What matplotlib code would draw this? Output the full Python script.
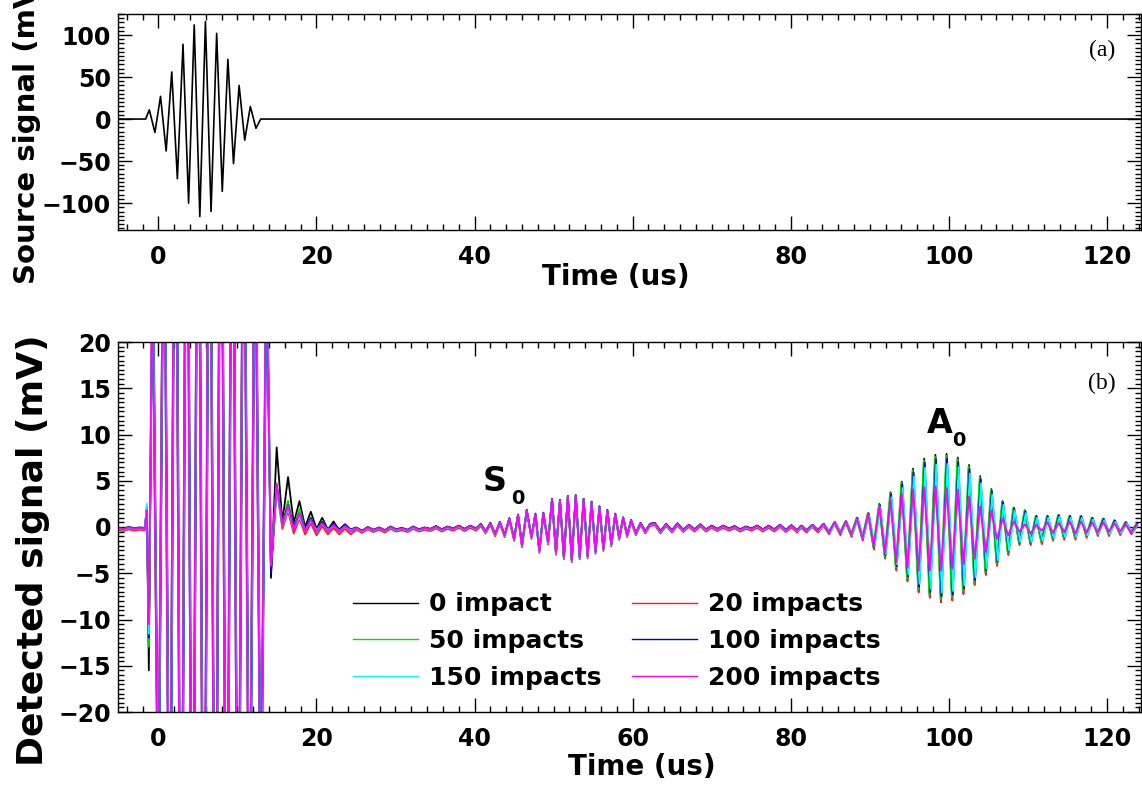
import numpy as np
import matplotlib
matplotlib.use("Agg")
import matplotlib.pyplot as plt
from matplotlib.ticker import MultipleLocator, FuncFormatter

# ---- source signal (panel a): half-cycle extrema ----
src_start = -1.14
src_step = 0.71
src_extrema = [11, -16, 27, -38, 56, -71, 89, -100, 112, -116,
               116, -110, 102, -86, 71, -53, 40, -25, 15, -11]

# ---- detected signal (panel b) ----
labels = ["0 impact", "20 impacts", "50 impacts", "100 impacts", "150 impacts", "200 impacts"]
colors = ["black", "#ff1a1a", "#00e000", "#0000c8", "#00ffff", "#ff00ff"]
offsets = [0.0, -0.2, 0.05, 0.05, -0.05, 0.0]

pre_start, pre_step = -5.1, 0.68
pre_vals = [-0.1, -0.25, -0.05, -0.2, -0.1, -0.15]

spike_t = [-1.45, -1.2]
spike_vals = [[2.2, -15.5], [1.5, -12.5], [1.8, -13.0],
              [2.0, -12.0], [2.6, -11.5], [1.8, -10.5]]

# electrical crosstalk, clipped by the axis
burst_start, burst_step = -0.75, 0.72
burst_vals = [30, -35, 45, -50, 60, -60, 60, -60, 60, -60, 60,
              -60, 60, -60, 60, -55, 50, -45, 40, -35, 30]
burst_shift = [0.0, 0.03, 0.05, 0.08, 0.04, 0.0]

ring_start, ring_step = 14.25, 0.72
ring_vals = [
    [-5.5, 8.6, 0.5, 5.4, 0.4, 2.8, 0.0, 1.65, -0.2, 1.0, -0.3, 0.6, -0.4, 0.3, -0.4],
    [-4.5, 4.4, 0.0, 1.9, -0.5, 1.1, -0.6, 0.6, -0.7, 0.3, -0.6, 0.1, -0.6, 0.0, -0.6],
    [-4.5, 4.7, 0.3, 2.8, -0.1, 1.9, -0.3, 1.0, -0.4, 0.6, -0.4, 0.3, -0.4, 0.2, -0.4],
    [-5.0, 4.4, 0.3, 2.3, -0.1, 1.4, -0.2, 0.9, -0.3, 0.5, -0.3, 0.3, -0.3, 0.2, -0.3],
    [-4.0, 4.3, 0.2, 2.0, -0.2, 1.2, -0.3, 0.7, -0.3, 0.4, -0.3, 0.2, -0.4, 0.1, -0.3],
    [-4.2, 4.6, 0.2, 2.3, -0.3, 1.5, -0.4, 0.8, -0.5, 0.4, -0.5, 0.2, -0.5, 0.1, -0.5],
]

noise1_start, noise1_step = 25.05, 0.72
noise1_vals = [-0.1, -0.45, -0.05, -0.35, -0.1, -0.4, 0.0, -0.3, -0.15, -0.35, 0.0,
               -0.3, -0.1, -0.25, 0.05, -0.3, 0.0, -0.2, 0.1, -0.25, 0.1]

s0_t = [40.2, 40.8, 41.4, 42.0, 42.6, 43.2, 43.8, 44.4, 45.0, 45.5,
        46.0, 46.6, 47.2, 47.7, 48.2, 48.7, 49.3, 49.8, 50.3, 50.8,
        51.3, 51.8, 52.3, 52.8, 53.3, 53.8, 54.3, 54.8, 55.3, 55.8,
        56.3, 56.8, 57.3, 57.8, 58.3, 58.8, 59.3, 59.8, 60.4, 61.0,
        61.6, 62.2]
s0_vals = [-0.2, 0.3, -0.5, 0.4, -0.8, 0.5, -0.9, 0.9, -1.3, 1.3,
           -2.0, 1.8, -1.1, 1.4, -2.6, 1.5, -1.7, 3.0, -2.8, 2.9,
           -3.3, 3.3, -3.6, 3.4, -3.3, 3.0, -3.2, 2.7, -2.7, 2.2,
           -2.4, 1.8, -1.9, 1.4, -1.2, 1.0, -0.9, 0.7, -0.7, 0.4,
           -0.5, 0.3]

noise2_start, noise2_step = 62.8, 0.72
noise2_vals = [0.4, -0.5, 0.3, -0.4, 0.35, -0.35, 0.2, -0.3, 0.25, -0.3, 0.1, -0.25, 0.1,
               -0.2, 0.05, -0.3, 0.0, -0.2, 0.1, -0.3, 0.1, -0.3, 0.2, -0.35, 0.15, -0.4]

a0_start, a0_step = 81.3, 0.708
a0_vals = [0.1, -0.4, 0.2, -0.4, 0.3, -0.6, 0.5, -0.7, 0.6, -0.9,
           1.0, -1.3, 1.5, -2.3, 2.5, -3.3, 3.75, -4.6, 4.9, -5.8,
           6.3, -7.0, 7.4, -7.6, 7.8, -8.1, 7.9, -7.9, 7.5, -7.2,
           6.7, -6.2, 5.5, -5.1, 4.1, -4.1, 2.8, -2.9, 2.1, -1.8,
           1.8, -1.8, 1.2, -1.7, 1.2, -1.3, 1.3, -1.2, 1.2, -1.2,
           1.2, -1.0, 1.0, -0.8, 0.9, -0.8, 0.7, -0.7, 0.5, -0.6, 0.3]
a0_vals_200 = [0.1, -0.4, 0.2, -0.4, 0.3, -0.6, 0.5, -0.7, 0.6, -0.8,
               0.9, -1.2, 1.4, -2.0, 2.3, -2.8, 2.9, -3.8, 3.6, -4.4,
               4.1, -4.7, 4.3, -4.7, 4.4, -4.7, 4.2, -4.5, 4.0, -4.0,
               3.3, -3.4, 2.2, -2.7, 1.8, -1.3, 0.9, -0.9, 0.6, -0.5,
               0.3, -0.7, 0.2, -0.4, 0.5, -0.6, 0.4, -0.5, 0.6, -0.7,
               0.6, -0.6, 0.5, -0.6, 0.5, -0.5, 0.4, -0.5, 0.3, -0.6, 0.2]
a0_gain = [1.0, 0.98, 0.97, 0.93, 0.87, 1.0]
a0_shift = [0.0, 0.02, -0.06, 0.06, 0.11, 0.0]


def grid(start, step, vals):
    return start + step * np.arange(len(vals))


def detected(i):
    t = np.concatenate([
        grid(pre_start, pre_step, pre_vals),
        spike_t,
        grid(burst_start, burst_step, burst_vals) + burst_shift[i],
        grid(ring_start, ring_step, ring_vals[i]),
        grid(noise1_start, noise1_step, noise1_vals),
        s0_t,
        grid(noise2_start, noise2_step, noise2_vals),
        grid(a0_start, a0_step, a0_vals) + a0_shift[i],
    ])
    a0 = np.array(a0_vals_200) if i == 5 else np.array(a0_vals) * a0_gain[i]
    v = np.concatenate([
        pre_vals, spike_vals[i], burst_vals, ring_vals[i],
        noise1_vals, s0_vals, noise2_vals, a0,
    ]) + offsets[i]
    return t, v


sans = {"family": "DejaVu Sans", "weight": "bold"}

fig = plt.figure(figsize=(11.42, 7.86), dpi=100)
W, H = 1142, 786
ax1 = fig.add_axes([118 / W, 1 - 230 / H, 1023 / W, 216 / H])
ax2 = fig.add_axes([118 / W, 1 - 712 / H, 1023 / W, 370 / H])

# panel (a)
st = grid(src_start, src_step, src_extrema)
t_src = np.concatenate([[-5.1, -1.6], st, [12.95, 124.3]])
v_src = np.concatenate([[0, 0], src_extrema, [0, 0]])
ax1.plot(t_src, v_src, color="black", lw=1.2)
ax1.set_xlim(-5.1, 124.3)
ax1.set_ylim(-132, 125)
ax1.xaxis.set_major_locator(MultipleLocator(20))
ax1.xaxis.set_minor_locator(MultipleLocator(2))
ax1.yaxis.set_major_locator(MultipleLocator(50))
ax1.yaxis.set_minor_locator(MultipleLocator(5))
# the axis title sits over the 60 label in the original
ax1.xaxis.set_major_formatter(FuncFormatter(lambda x, p: "" if abs(x - 60) < 1 else f"{x:.0f}"))

# panel (b)
lines = []
for i in range(6):
    t, v = detected(i)
    ln, = ax2.plot(t, v, color=colors[i], lw=1.3, label=labels[i])
    lines.append(ln)
ax2.set_xlim(-5.1, 124.3)
ax2.set_ylim(-20, 20)
ax2.xaxis.set_major_locator(MultipleLocator(20))
ax2.xaxis.set_minor_locator(MultipleLocator(2))
ax2.yaxis.set_major_locator(MultipleLocator(5))
ax2.yaxis.set_minor_locator(MultipleLocator(0.5))

ax2.text(42.6, 4.97, "S", fontsize=24, ha="center", va="center", **sans)
ax2.text(45.5, 3.1, "0", fontsize=14, ha="center", va="center", **sans)
ax2.text(98.8, 11.2, "A", fontsize=24, ha="center", va="center", **sans)
ax2.text(101.3, 9.4, "0", fontsize=14, ha="center", va="center", **sans)

fig.text(1102 / W, 1 - 50 / H, "(a)", fontsize=17, family="Liberation Serif",
         ha="center", va="center")
fig.text(1102 / W, 1 - 383 / H, "(b)", fontsize=17, family="Liberation Serif",
         ha="center", va="center")

# legend filled row by row like the original
order = [0, 2, 4, 1, 3, 5]
leg = ax2.legend([lines[k] for k in order], [labels[k] for k in order],
                 ncol=2, loc="center", bbox_to_anchor=(617 / W, 1 - 641 / H),
                 bbox_transform=fig.transFigure, frameon=False,
                 handlelength=2.6, handletextpad=0.45, labelspacing=0.5,
                 columnspacing=1.2, borderpad=0.0, prop={**sans, "size": 18})
for h in leg.get_lines():
    h.set_linewidth(1.0)

for ax in (ax1, ax2):
    ax.tick_params(which="both", direction="in", top=True, right=True, width=1.0)
    ax.tick_params(which="major", length=10)
    ax.tick_params(which="minor", length=4.5)
    ax.tick_params(axis="y", labelsize=17, pad=5)
    ax.tick_params(axis="x", labelsize=17, pad=11)
    for lab in ax.get_xticklabels() + ax.get_yticklabels():
        lab.set_fontweight("bold")
    for s in ax.spines.values():
        s.set_linewidth(1.0)

fig.text(616 / W, 1 - 277 / H, "Time (us)", fontsize=20, ha="center", va="center", **sans)
fig.text(642 / W, 1 - 767 / H, "Time (us)", fontsize=20, ha="center", va="center", **sans)
fig.text(27 / W, 1 - 284 / H, "Source signal (mV)", rotation=90, fontsize=21,
         ha="center", va="bottom", **sans)
fig.text(33 / W, 1 - 550 / H, "Detected signal (mV)", rotation=90, fontsize=26,
         ha="center", va="center", **sans)

fig.savefig("out.png", dpi=100)
